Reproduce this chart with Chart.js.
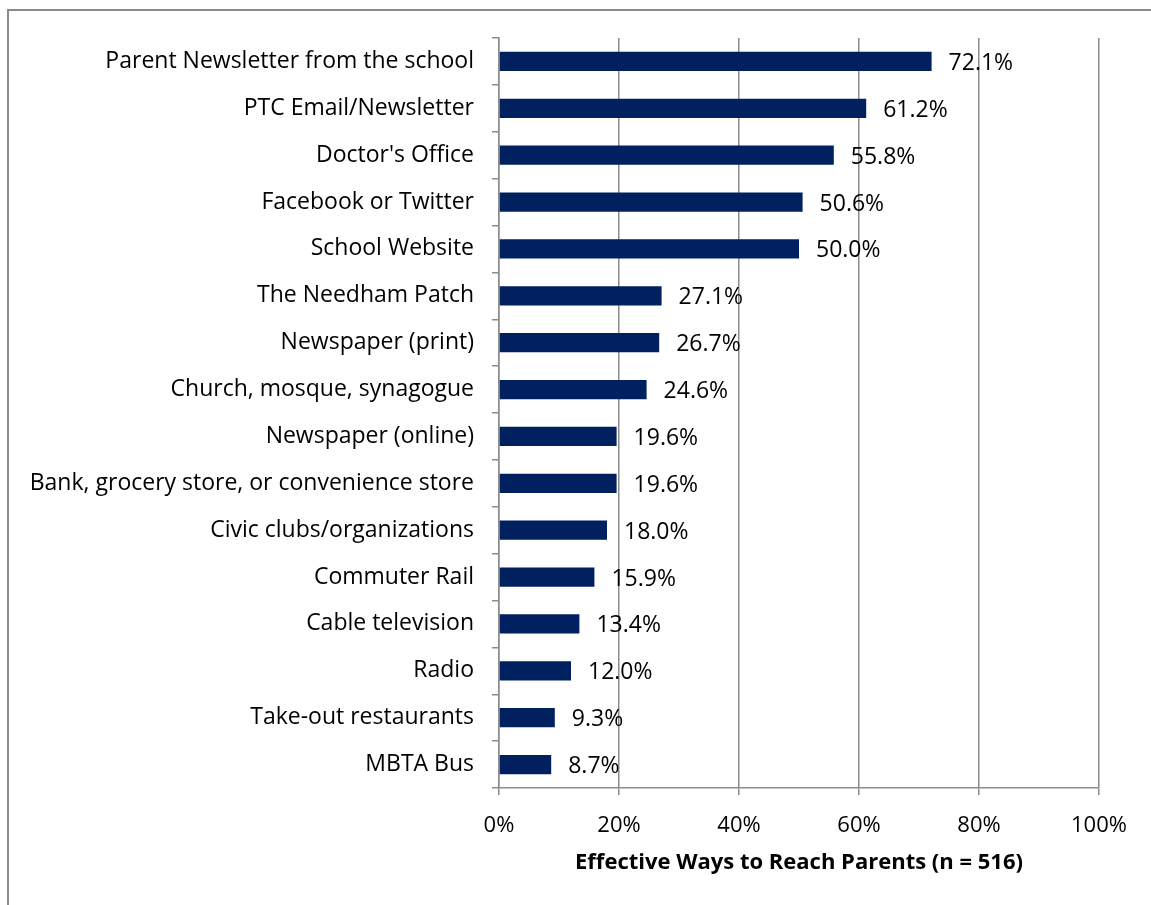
<!DOCTYPE html>
<html>
<head>
<meta charset="utf-8">
<script src="https://cdn.jsdelivr.net/npm/chart.js@4"></script>
<style>
  html, body { margin: 0; padding: 0; background: #fff; }
  #wrap { width: 1151px; height: 905px; position: relative; }
</style>
</head>
<body>
<div id="wrap"><canvas id="chart" width="1151" height="905"></canvas></div>
<script>
const categories = [
  "Parent Newsletter from the school",
  "PTC Email/Newsletter",
  "Doctor's Office",
  "Facebook or Twitter",
  "School Website",
  "The Needham Patch",
  "Newspaper (print)",
  "Church, mosque, synagogue",
  "Newspaper (online)",
  "Bank, grocery store, or convenience store",
  "Civic clubs/organizations",
  "Commuter Rail",
  "Cable television",
  "Radio",
  "Take-out restaurants",
  "MBTA Bus"
];
const percents = [72.1, 61.2, 55.8, 50.6, 50.0, 27.1, 26.7, 24.6, 19.6, 19.6, 18.0, 15.9, 13.4, 12.0, 9.3, 8.7];
const xTicks = [0, 20, 40, 60, 80, 100];
const axisTitle = "Effective Ways to Reach Parents (n = 516)";

const FONT = "'Open Sans', Calibri, sans-serif";
const SIZE = 23;
const TICK_SIZE = 22;
const GRID = "#8c8c8c";

// value labels to the right of each bar
const barLabels = {
  id: "barLabels",
  afterDatasetsDraw(chart) {
    const ctx = chart.ctx;
    const meta = chart.getDatasetMeta(0);
    ctx.save();
    ctx.font = SIZE + "px " + FONT;
    ctx.fillStyle = "#000";
    ctx.textBaseline = "middle";
    ctx.textAlign = "left";
    meta.data.forEach(function (bar, i) {
      ctx.fillText(percents[i].toFixed(1) + "%", bar.x + 17, bar.y + 2);
    });
    ctx.restore();
  }
};

// outer frame of the chart box
const frame = {
  id: "frame",
  beforeDraw(chart) {
    const ctx = chart.ctx;
    ctx.save();
    ctx.strokeStyle = "#8a8a8a";
    ctx.lineWidth = 2;
    ctx.strokeRect(8, 10, 1200, 1000);
    ctx.restore();
  }
};

new Chart(document.getElementById("chart"), {
  type: "bar",
  data: {
    labels: categories,
    datasets: [{
      data: percents,
      backgroundColor: "#002060",
      borderWidth: 0,
      categoryPercentage: 1,
      barPercentage: 0.41
    }]
  },
  options: {
    indexAxis: "y",
    responsive: false,
    animation: false,
    layout: { padding: { top: 38, right: 52, left: 0, bottom: 0 } },
    plugins: {
      legend: { display: false },
      tooltip: { enabled: false }
    },
    scales: {
      x: {
        min: 0,
        max: 100,
        afterBuildTicks(scale) {
          scale.ticks = xTicks.map(function (v) { return { value: v }; });
        },
        afterFit(scale) { scale.height = 117; },
        grid: { color: GRID, lineWidth: 1.5, tickLength: 7 },
        border: { color: GRID, width: 1.5 },
        ticks: {
          color: "#000",
          font: { family: FONT, size: TICK_SIZE },
          padding: 18,
          maxRotation: 0,
          callback: function (v) { return v + "%"; }
        },
        title: {
          display: true,
          text: axisTitle,
          color: "#000",
          font: { family: FONT, size: TICK_SIZE, weight: "bold" },
          padding: { top: 8, bottom: 29 }
        }
      },
      y: {
        afterFit(scale) { scale.width = 499; },
        grid: { display: true, drawOnChartArea: false, color: GRID, lineWidth: 1.5, tickLength: 7, offset: true },
        border: { color: GRID, width: 1.5 },
        ticks: {
          color: "#000",
          font: { family: FONT, size: SIZE },
          padding: 18,
          autoSkip: false
        }
      }
    }
  },
  plugins: [frame, barLabels]
});
</script>
</body>
</html>
